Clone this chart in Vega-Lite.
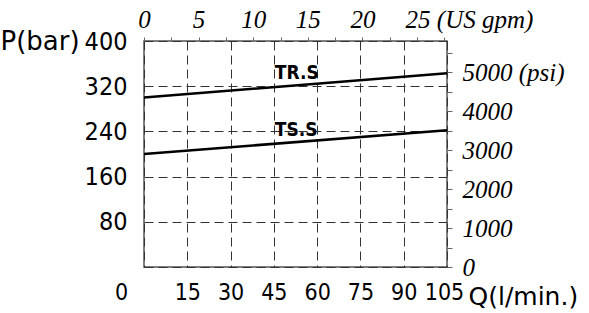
{
  "$schema": "https://vega.github.io/schema/vega-lite/v6.json",
  "autosize": {"type": "none"},
  "padding": {"left": 144, "top": 41, "right": 142, "bottom": 46},
  "width": 303,
  "height": 226,
  "background": "white",
  "config": {
    "view": {"stroke": "#555", "strokeWidth": 1.5},
    "axis": {"domain": false, "labelColor": "#000", "titleColor": "#000", "labelOverlap": false, "labelFlush": false}
  },
  "datasets": {
    "curves": [
      {"series": "TR.S", "q": 0, "bar": 300, "gpm": 0, "psi": 4351},
      {"series": "TR.S", "q": 105, "bar": 343, "gpm": 27.74, "psi": 4975},
      {"series": "TS.S", "q": 0, "bar": 200, "gpm": 0, "psi": 2901},
      {"series": "TS.S", "q": 105, "bar": 242, "gpm": 27.74, "psi": 3510}
    ],
    "labels": [
      {"series": "TR.S", "q": 45, "bar": 333},
      {"series": "TS.S", "q": 45, "bar": 232}
    ]
  },
  "layer": [
    {
      "layer": [
        {
          "data": {"name": "curves"},
          "mark": {"type": "line", "color": "#000", "strokeWidth": 2.6},
          "encoding": {
            "x": {
              "field": "q", "type": "quantitative",
              "scale": {"domain": [0, 105], "nice": false, "zero": false},
              "axis": {
                "orient": "bottom",
                "values": [0, 15, 30, 45, 60, 75, 90, 105],
                "labelFlush": false,
                "grid": true, "gridDash": [9, 5], "gridColor": "#333", "gridWidth": 1,
                "ticks": false,
                "labelFont": "DejaVu Sans Condensed, DejaVu Sans", "labelFontSize": 23,
                "labelPadding": 14,
                "labelOffset": {"condition": [{"test": "datum.value == 0", "value": -23}, {"test": "datum.value == 105", "value": -3}], "value": 0},
                "title": "Q(l/min.)",
                "titleFont": "DejaVu Sans", "titleFontSize": 25, "titleFontWeight": "normal",
                "titleAnchor": "start", "titleAlign": "left", "titleBaseline": "middle",
                "titleX": 324, "titleY": 29
              }
            },
            "y": {
              "field": "bar", "type": "quantitative",
              "scale": {"domain": [0, 400], "nice": false, "zero": false},
              "axis": {
                "orient": "left",
                "values": [0, 80, 160, 240, 320, 400],
                "labelFlush": false,
                "labelExpr": "datum.value == 0 ? '' : datum.label",
                "grid": true, "gridDash": [9, 5], "gridColor": "#333", "gridWidth": 1,
                "ticks": false,
                "labelFont": "DejaVu Sans Condensed, DejaVu Sans", "labelFontSize": 25,
                "labelPadding": 17,
                "title": "P(bar)",
                "titleFont": "DejaVu Sans", "titleFontSize": 26, "titleFontWeight": "normal",
                "titleAngle": 0, "titleAlign": "left", "titleBaseline": "middle",
                "titleX": -144, "titleY": 0
              }
            },
            "detail": {"field": "series"}
          }
        },
        {
          "data": {"name": "labels"},
          "mark": {"type": "text", "align": "left", "baseline": "alphabetic", "font": "DejaVu Sans Condensed, DejaVu Sans", "fontWeight": "bold", "fontSize": 19, "color": "#000", "dx": 1},
          "encoding": {
            "x": {"field": "q", "type": "quantitative"},
            "y": {"field": "bar", "type": "quantitative"},
            "text": {"field": "series"}
          }
        }
      ]
    },
    {
      "data": {"name": "curves"},
      "mark": {"type": "line", "strokeOpacity": 0},
      "encoding": {
        "x": {
          "field": "gpm", "type": "quantitative",
          "scale": {"domain": [0, 27.738], "nice": false, "zero": false},
          "axis": {
            "orient": "top",
            "values": [0, 2.5, 5, 7.5, 10, 12.5, 15, 17.5, 20, 22.5, 25, 27.5],
            "labelFlush": false,
            "labelExpr": "datum.value % 5 != 0 ? '' : (datum.value == 25 ? '25 (US gpm)' : datum.label)",
            "grid": false, "ticks": true, "tickSize": 4, "tickColor": "#666",
            "labelFont": "Liberation Serif", "labelFontStyle": "italic", "labelFontSize": 25,
            "labelPadding": 5,
            "labelAlign": {"condition": {"test": "datum.value == 25", "value": "left"}, "value": "center"},
            "labelOffset": {"condition": {"test": "datum.value == 25", "value": -12}, "value": 0},
            "title": null
          }
        },
        "y": {
          "field": "psi", "type": "quantitative",
          "scale": {"domain": [0, 5801.5], "nice": false, "zero": false},
          "axis": {
            "orient": "right",
            "values": [0, 500, 1000, 1500, 2000, 2500, 3000, 3500, 4000, 4500, 5000, 5500],
            "labelFlush": false,
            "format": "d",
            "labelExpr": "datum.value % 1000 != 0 ? '' : (datum.value == 5000 ? '5000 (psi)' : datum.label)",
            "grid": false, "ticks": true, "tickSize": 5, "tickColor": "#666",
            "labelFont": "Liberation Serif", "labelFontStyle": "italic", "labelFontSize": 25,
            "labelPadding": 10,
            "title": null
          }
        },
        "detail": {"field": "series"}
      }
    }
  ],
  "resolve": {"scale": {"x": "independent", "y": "independent"}, "axis": {"x": "independent", "y": "independent"}}
}
